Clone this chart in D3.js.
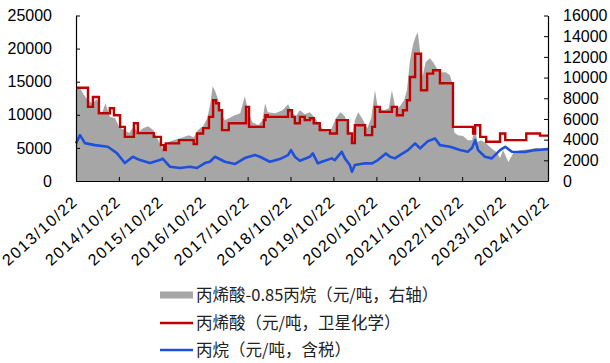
<!DOCTYPE html>
<html>
<head>
<meta charset="utf-8">
<script src="https://cdn.jsdelivr.net/npm/d3@7"></script>
<style>
  body { margin: 0; background: #fff; }
  svg { display: block; }
</style>
</head>
<body>
<svg id="chart" width="610" height="363"></svg>
<script>
// acrylic acid (left axis), step-like weekly quotes
const redDates = ["2013-10-22","2014-02-01","2014-03-15","2014-05-05","2014-08-06","2014-09-10","2014-11-01","2014-12-12","2015-02-27","2015-04-01","2015-08-15","2015-10-15","2015-11-10","2015-11-25","2016-03-17","2016-07-20","2016-08-17","2016-10-08","2016-11-27","2017-01-01","2017-01-26","2017-02-20","2017-03-18","2017-05-15","2017-10-08","2017-11-03","2018-03-10","2018-03-22","2018-04-12","2018-10-01","2018-11-03","2018-11-28","2019-01-10","2019-02-20","2019-04-05","2019-05-08","2019-06-28","2019-09-23","2019-11-21","2020-02-22","2020-03-28","2020-04-22","2020-07-18","2020-09-16","2020-10-10","2020-11-21","2021-03-03","2021-04-15","2021-06-05","2021-07-09","2021-08-04","2021-09-17","2021-11-06","2021-12-28","2022-02-17","2022-04-16","2022-08-05","2023-01-23","2023-02-10","2023-03-25","2023-05-15","2023-09-10","2023-10-24","2024-04-20","2024-08-15","2024-10-22"];
const redValues = [14080,11190,12700,10240,10990,9940,8180,6670,8730,7230,6670,5420,4670,5680,6170,5570,7180,7980,9680,12200,11750,10690,7680,8730,11190,8180,9190,9940,9680,10690,9680,8730,9680,9190,9490,8730,7680,7180,9190,7180,5720,8430,6930,8180,11190,10440,11190,9940,10690,12200,15710,19230,13700,16220,16720,14760,8180,7180,8430,6670,5920,7180,6170,7180,6850,6850];

// propane (left axis)
const blueDates = ["2013-10-22","2013-11-25","2014-01-06","2014-04-01","2014-07-20","2014-10-05","2014-12-12","2015-02-18","2015-04-20","2015-07-14","2015-10-05","2015-10-30","2016-01-01","2016-03-25","2016-06-18","2016-08-17","2016-10-23","2016-12-05","2017-01-17","2017-04-12","2017-07-05","2017-09-28","2017-12-24","2018-02-03","2018-04-30","2018-07-23","2018-10-01","2018-10-26","2018-11-28","2019-01-10","2019-04-05","2019-04-30","2019-06-12","2019-07-16","2019-10-08","2019-11-03","2020-01-01","2020-01-28","2020-03-10","2020-03-28","2020-04-22","2020-07-18","2020-09-16","2020-11-04","2021-01-11","2021-02-15","2021-03-28","2021-05-10","2021-07-18","2021-09-17","2021-10-28","2022-01-04","2022-03-05","2022-04-16","2022-07-10","2022-10-04","2022-12-09","2023-01-14","2023-02-10","2023-03-07","2023-05-04","2023-07-01","2023-09-10","2023-10-24","2023-12-20","2024-04-08","2024-07-03","2024-10-22"];
const blueValues = [5680,6930,5720,5420,5170,4220,2710,3660,3160,2710,3160,3390,2150,1960,2150,1960,2710,2910,3660,2910,2560,3460,3920,3660,2910,3310,3920,4670,3660,3060,3660,4170,2670,2910,3420,3160,4410,3420,2410,1400,2410,2670,2670,3160,4170,3660,3420,3920,4670,5680,4920,6020,6430,5420,5170,4670,4410,4970,6170,4670,3660,3420,4670,5170,4410,4370,4670,4820];

// spread: acrylic acid - 0.85 propane (right axis)
const grayDates = ["2013-10-22","2013-11-25","2013-12-30","2014-02-01","2014-03-08","2014-04-20","2014-05-25","2014-06-30","2014-08-06","2014-09-20","2014-10-24","2014-12-05","2015-01-18","2015-02-27","2015-04-01","2015-05-15","2015-06-28","2015-08-10","2015-09-22","2015-10-25","2015-11-20","2015-12-15","2016-01-30","2016-04-01","2016-06-08","2016-07-20","2016-08-25","2016-10-08","2016-11-13","2016-12-10","2016-12-28","2017-01-15","2017-02-10","2017-03-08","2017-04-10","2017-05-15","2017-07-05","2017-08-20","2017-09-28","2017-10-25","2017-11-30","2018-01-20","2018-02-25","2018-03-20","2018-04-12","2018-06-15","2018-08-15","2018-10-01","2018-11-03","2018-12-05","2019-01-10","2019-02-20","2019-04-05","2019-05-20","2019-07-16","2019-09-23","2019-11-12","2019-12-20","2020-01-28","2020-03-01","2020-03-28","2020-04-22","2020-05-20","2020-06-22","2020-08-05","2020-09-08","2020-10-10","2020-11-04","2020-12-25","2021-02-05","2021-03-03","2021-04-06","2021-05-10","2021-06-15","2021-07-09","2021-08-04","2021-09-01","2021-09-25","2021-10-10","2021-10-28","2021-11-20","2021-12-15","2022-01-20","2022-02-17","2022-03-20","2022-04-25","2022-06-05","2022-07-10","2022-07-28","2022-08-15","2022-09-15","2022-10-30","2022-12-09","2023-01-14","2023-02-10","2023-02-28","2023-04-01","2023-05-15","2023-06-25","2023-08-10","2023-09-10","2023-10-05","2023-11-20","2024-01-05","2024-03-05","2024-05-15","2024-07-15","2024-09-10","2024-10-22"];
const grayValues = [8970,8970,8290,7810,7520,7900,6360,7520,6200,6070,5230,4920,4630,5300,4630,5110,5300,4920,3950,3180,2800,3760,3950,4150,4430,4240,4920,5300,6070,7620,9160,8770,8000,6650,5880,6070,6360,6560,8190,6840,5690,5400,5880,7520,6650,6560,6840,7420,6650,6270,6840,6460,6650,6070,5110,4720,6070,6650,6270,5110,3760,5880,6650,6070,5110,6070,8770,7040,6840,7040,8770,6840,7230,7810,8770,11660,13300,14070,14360,12630,10120,11470,11860,11470,10890,10510,10510,10220,9540,4720,4430,4340,3950,3950,5110,3760,3950,3660,3180,2800,2220,2990,1830,2800,2990,3080,3180,3080,3180];

const xTickDates = ["2013-10-22","2014-10-22","2015-10-22","2016-10-22","2017-10-22","2018-10-22","2019-10-22","2020-10-22","2021-10-22","2022-10-22","2023-10-22","2024-10-22"];
const leftTicks = [0, 5000, 10000, 15000, 20000, 25000];
const rightTicks = [0, 2000, 4000, 6000, 8000, 10000, 12000, 14000, 16000];

const legendLabels = [
  "丙烯酸-0.85丙烷（元/吨，右轴）",
  "丙烯酸（元/吨，卫星化学）",
  "丙烷（元/吨，含税）"
];

const parse = d3.timeParse("%Y-%m-%d");
const red = d3.zip(redDates, redValues).map(d => ({ date: parse(d[0]), v: d[1] }));
const blue = d3.zip(blueDates, blueValues).map(d => ({ date: parse(d[0]), v: d[1] }));
const gray = d3.zip(grayDates, grayValues).map(d => ({ date: parse(d[0]), v: d[1] }));

const svg = d3.select("#chart");
const plotLeft = 76, plotRight = 548, plotTop = 15.5, plotBottom = 181;
const numFont = "'Liberation Sans', Arial, sans-serif";

const x = d3.scaleTime()
  .domain([parse("2013-10-22"), parse("2024-10-22")])
  .range([plotLeft, plotRight]);
const yL = d3.scaleLinear().domain([0, 25000]).range([plotBottom, plotTop]);
const yR = d3.scaleLinear().domain([0, 16000]).range([plotBottom, plotTop]);

const plot = svg.append("g");

plot.append("path")
  .datum(gray)
  .attr("fill", "#a6a6a6")
  .attr("d", d3.area().x(d => x(d.date)).y0(yR(0)).y1(d => yR(d.v)));

plot.append("path")
  .datum(red)
  .attr("fill", "none")
  .attr("stroke", "#c00000")
  .attr("stroke-width", 2.4)
  .attr("d", d3.line().x(d => x(d.date)).y(d => yL(d.v)).curve(d3.curveStepAfter));

plot.append("path")
  .datum(blue)
  .attr("fill", "none")
  .attr("stroke", "#1f50dc")
  .attr("stroke-width", 2.6)
  .attr("stroke-linejoin", "round")
  .attr("d", d3.line().x(d => x(d.date)).y(d => yL(d.v)));

// axes
const leftAxis = svg.append("g")
  .attr("transform", `translate(${plotLeft},0)`)
  .call(d3.axisLeft(yL).tickValues(leftTicks).tickFormat(d3.format("d"))
    .tickSizeInner(-4).tickSizeOuter(0).tickPadding(24));

const rightAxis = svg.append("g")
  .attr("transform", `translate(${plotRight},0)`)
  .call(d3.axisRight(yR).tickValues(rightTicks).tickFormat(d3.format("d"))
    .tickSizeInner(-4).tickSizeOuter(0).tickPadding(15));

const bottomAxis = svg.append("g")
  .attr("transform", `translate(0,${plotBottom})`)
  .call(d3.axisBottom(x).tickValues(xTickDates.map(parse)).tickSizeInner(-4).tickSizeOuter(0).tickFormat(""));

[leftAxis, rightAxis, bottomAxis].forEach(g => {
  g.select(".domain").attr("stroke", "#000").attr("stroke-width", 1.2);
  g.selectAll(".tick line").attr("stroke", "#000");
  g.selectAll("text")
    .attr("fill", "#000")
    .style("font-family", numFont)
    .style("font-size", "16px");
});

svg.append("g")
  .selectAll("text")
  .data(xTickDates)
  .join("text")
  .attr("transform", d => `translate(${x(parse(d)) + 3},203) rotate(-42)`)
  .attr("text-anchor", "end")
  .style("font-family", numFont)
  .style("font-size", "16px")
  .style("letter-spacing", "1.5px")
  .attr("fill", "#000")
  .text(d => d.replace(/-/g, "/"));

// legend
const legend = svg.append("g");
const rowY = [295, 323, 350];

legend.append("rect")
  .attr("x", 160).attr("y", rowY[0] - 3.5)
  .attr("width", 33).attr("height", 7)
  .attr("fill", "#a6a6a6");
legend.append("line")
  .attr("x1", 160).attr("x2", 193).attr("y1", rowY[1]).attr("y2", rowY[1])
  .attr("stroke", "#c00000").attr("stroke-width", 2.4);
legend.append("line")
  .attr("x1", 160).attr("x2", 193).attr("y1", rowY[2]).attr("y2", rowY[2])
  .attr("stroke", "#1f50dc").attr("stroke-width", 2.4);

legend.selectAll("text")
  .data(legendLabels)
  .join("text")
  .attr("x", 196)
  .attr("y", (d, i) => rowY[i])
  .attr("dy", "0.36em")
  .style("font-family", "'Noto Sans CJK SC', sans-serif")
  .style("font-size", "16.5px")
  .attr("fill", "#222")
  .text(d => d);
</script>
</body>
</html>
